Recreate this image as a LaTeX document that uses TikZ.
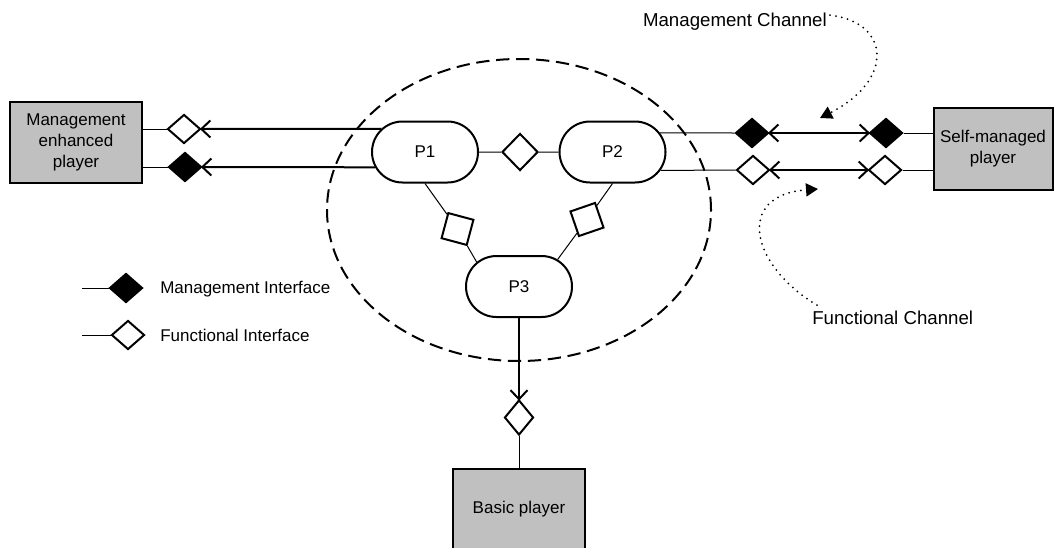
\documentclass[tikz,border=0pt]{standalone}
\usepackage{fontspec}
\setmainfont{Liberation Sans}
\usepackage{tikz}
\usetikzlibrary{arrows.meta,positioning,shapes.geometric,shapes.misc}
\definecolor{boxgray}{HTML}{C0C0C0}
\tikzset{
  player/.style={draw,line width=1.5pt,fill=boxgray,align=center,inner sep=2pt,font=\fontsize{12.75}{15.75}\selectfont},
  proc/.style={draw,line width=1.5pt,rounded rectangle,minimum width=79.5pt,minimum height=45.75pt,inner sep=0pt,font=\fontsize{12.75}{15}\selectfont},
  ifc/.style={draw,line width=1.5pt,diamond,inner sep=0pt,minimum width=24.75pt,minimum height=21.75pt},
  mifc/.style={ifc,fill=black},
  fifc/.style={ifc,fill=white},
  sq/.style={draw,line width=1.5pt,rectangle,minimum size=19.5pt,inner sep=0pt},
  wire/.style={line width=0.75pt},
  chan/.style={line width=1.5pt,shorten >=-1.2pt,-{Straight Barb[length=6.75pt,width=12.75pt]}},
  bichan/.style={line width=1.5pt,shorten <=-1.2pt,shorten >=-1.2pt,{Straight Barb[length=6.75pt,width=12.75pt]}-{Straight Barb[length=6.75pt,width=12.75pt]}},
  hint/.style={line width=1.5pt,dash pattern=on 0pt off 4.5pt,line cap=round,-{Triangle[length=9pt,width=9.75pt]}},
  lbl/.style={inner sep=0pt,font=\fontsize{12.75}{15}\selectfont},
  chlbl/.style={inner sep=0pt,font=\fontsize{14}{16}\selectfont}
}
\begin{document}
\begin{tikzpicture}[x=0.75pt,y=-0.75pt]
\clip (0,0) rectangle (1055,547);
\draw[line width=1.5pt,dash pattern=on 10pt off 5pt] (519,210) ellipse [x radius=144pt,y radius=113.25pt];

\node[player,minimum width=99pt,minimum height=60.75pt] (mep) at (76,142.5) {Management\\enhanced\\player};
\node[player,minimum width=89.25pt,minimum height=61.5pt] (smp) at (993,149) {Self-managed\\player};
\node[player,minimum width=99pt,minimum height=60.75pt] (bp) at (519,509.5) {Basic player};

\node[proc] (P1) at (425,152) {P1};
\node[proc] (P2) at (612.5,152) {P2};
\node[proc] (P3) at (519,286.5) {P3};

\node[fifc] (dLu) at (184,129) {};
\node[mifc] (dLl) at (185,167) {};
\node[fifc,minimum width=27pt,minimum height=27.75pt] (dC) at (520,152) {};
\node[mifc] (dRu1) at (752,133) {};
\node[mifc] (dRu2) at (886,133) {};
\node[fifc] (dRl1) at (753,170) {};
\node[fifc] (dRl2) at (885,170) {};
\node[fifc,minimum width=21.75pt,minimum height=26.25pt] (dB) at (519,417.5) {};
\node[sq,rotate=-15] (sqL) at (457.5,229) {};
\node[sq,rotate=19] (sqR) at (587,219.5) {};

\draw[wire] (mep.east |- dLu) -- (dLu.west);
\draw[wire] (mep.east |- dLl) -- (dLl.west);
\draw[chan] (P1.152) -- (dLu.east);
\draw[chan] (P1.197) -- (dLl.east);
\draw[wire] (P1) -- (dC) -- (P2);
\draw[wire] (P2.22) -- (dRu1.west);
\draw[wire] (P2.339) -- (dRl1.west);
\draw[bichan] (dRu1.east) -- (dRu2.west);
\draw[bichan] (dRl1.east) -- (dRl2.west);
\draw[wire] (dRu2.east) -- (smp.west |- dRu2);
\draw[wire] (dRl2.east) -- (smp.west |- dRl2);
\draw[wire] (P1.south) -- (sqL) -- (P3.150);
\draw[wire] (P2.south) -- (sqR) -- (P3.35);
\draw[chan] (P3.south) -- (dB.north);
\draw[wire] (dB.south) -- (bp.north);

\coordinate (lgMs) at (82,288);
\coordinate (lgFs) at (82,335);
\node[mifc] (lgM) at (126,288) {};
\node[fifc] (lgF) at (128,335) {};
\draw[wire] (lgMs) -- (lgM.west);
\draw[wire] (lgFs) -- (lgF.west);
\node[lbl,anchor=west] (lgMt) at (160,289) {Management Interface};
\node[lbl,anchor=west] (lgFt) at (160,335) {Functional Interface};

\node[chlbl,anchor=base east] (lblMC) at (827,26) {Management Channel};
\coordinate (mcTip) at (820,118);
\draw[hint] ([shift={(3,3)}]lblMC.north east) .. controls (890,22) and (895,80) .. (mcTip);
\node[chlbl,anchor=base west] (lblFC) at (812,324) {Functional Channel};
\coordinate (fcTip) at (818,189);
\draw[hint] ([shift={(5,-5)}]lblFC.north west) .. controls (750,265) and (735,195) .. (fcTip);
\end{tikzpicture}
\end{document}
